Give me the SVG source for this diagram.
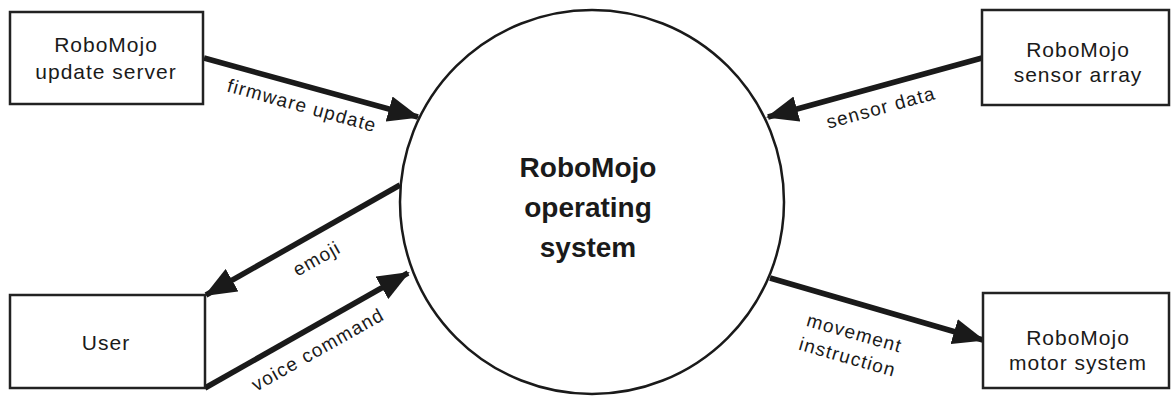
<svg xmlns="http://www.w3.org/2000/svg" width="1171" height="397" viewBox="0 0 1171 397">
<defs>
<style>
.box{fill:#fff;stroke:#222;stroke-width:2.5}
.circ{fill:#fff;stroke:#1a1a1a;stroke-width:2.5}
.lbl{font-family:"Liberation Sans",Arial,sans-serif;font-size:21px;letter-spacing:1px;fill:#1a1a1a;text-anchor:middle}
.main{font-family:"Liberation Sans",Arial,sans-serif;font-size:28px;font-weight:bold;fill:#1a1a1a;text-anchor:middle}
.flow{font-family:"Liberation Sans",Arial,sans-serif;font-size:19px;letter-spacing:1.2px;fill:#1a1a1a;text-anchor:middle}
.arr{stroke:#1a1a1a;stroke-width:5.5;fill:none;marker-end:url(#ah)}
</style>
<marker id="ah" markerUnits="userSpaceOnUse" markerWidth="32" markerHeight="26" viewBox="0 0 32 26" refX="30" refY="13" orient="auto">
<path d="M0,0 L32,13 L0,26 Z" fill="#1a1a1a"/>
</marker>
</defs>
<rect width="1171" height="397" fill="#fff"/>
<g id="connectors">
<line class="arr" x1="204" y1="58" x2="418" y2="117"/>
<line class="arr" x1="982" y1="58" x2="768" y2="117"/>
<line class="arr" x1="400" y1="185" x2="206" y2="295"/>
<line class="arr" x1="205" y1="388" x2="408" y2="273"/>
<line class="arr" x1="770" y1="278" x2="983" y2="340"/>
<g transform="translate(302,106) rotate(15.5)"><text class="flow" y="6">firmware update</text></g>
<g transform="translate(881,108) rotate(-15.5)"><text class="flow" y="6">sensor data</text></g>
<g transform="translate(317,259) rotate(-29.4)"><text class="flow" y="6">emoji</text></g>
<g transform="translate(318,350) rotate(-29.5)"><text class="flow" y="6">voice command</text></g>
<g transform="translate(851,345) rotate(16)"><text class="flow" y="-6">movement</text><text class="flow" y="19">instruction</text></g>
</g>
<g id="os">
<circle class="circ" cx="592" cy="202" r="192"/>
<text class="main" x="588" y="177">RoboMojo</text>
<text class="main" x="588" y="217">operating</text>
<text class="main" x="588" y="257">system</text>
</g>
<g id="update-server">
<rect class="box" x="10" y="12" width="193" height="92"/>
<text class="lbl" x="106" y="52">RoboMojo</text>
<text class="lbl" x="106" y="79">update server</text>
</g>
<g id="sensor-array">
<rect class="box" x="982" y="10" width="187" height="95"/>
<text class="lbl" x="1078" y="57">RoboMojo</text>
<text class="lbl" x="1078" y="82">sensor array</text>
</g>
<g id="user">
<rect class="box" x="10" y="295" width="195" height="93"/>
<text class="lbl" x="106" y="350">User</text>
</g>
<g id="motor-system">
<rect class="box" x="983" y="293" width="186" height="95"/>
<text class="lbl" x="1078" y="345">RoboMojo</text>
<text class="lbl" x="1078" y="370">motor system</text>
</g>
</svg>
